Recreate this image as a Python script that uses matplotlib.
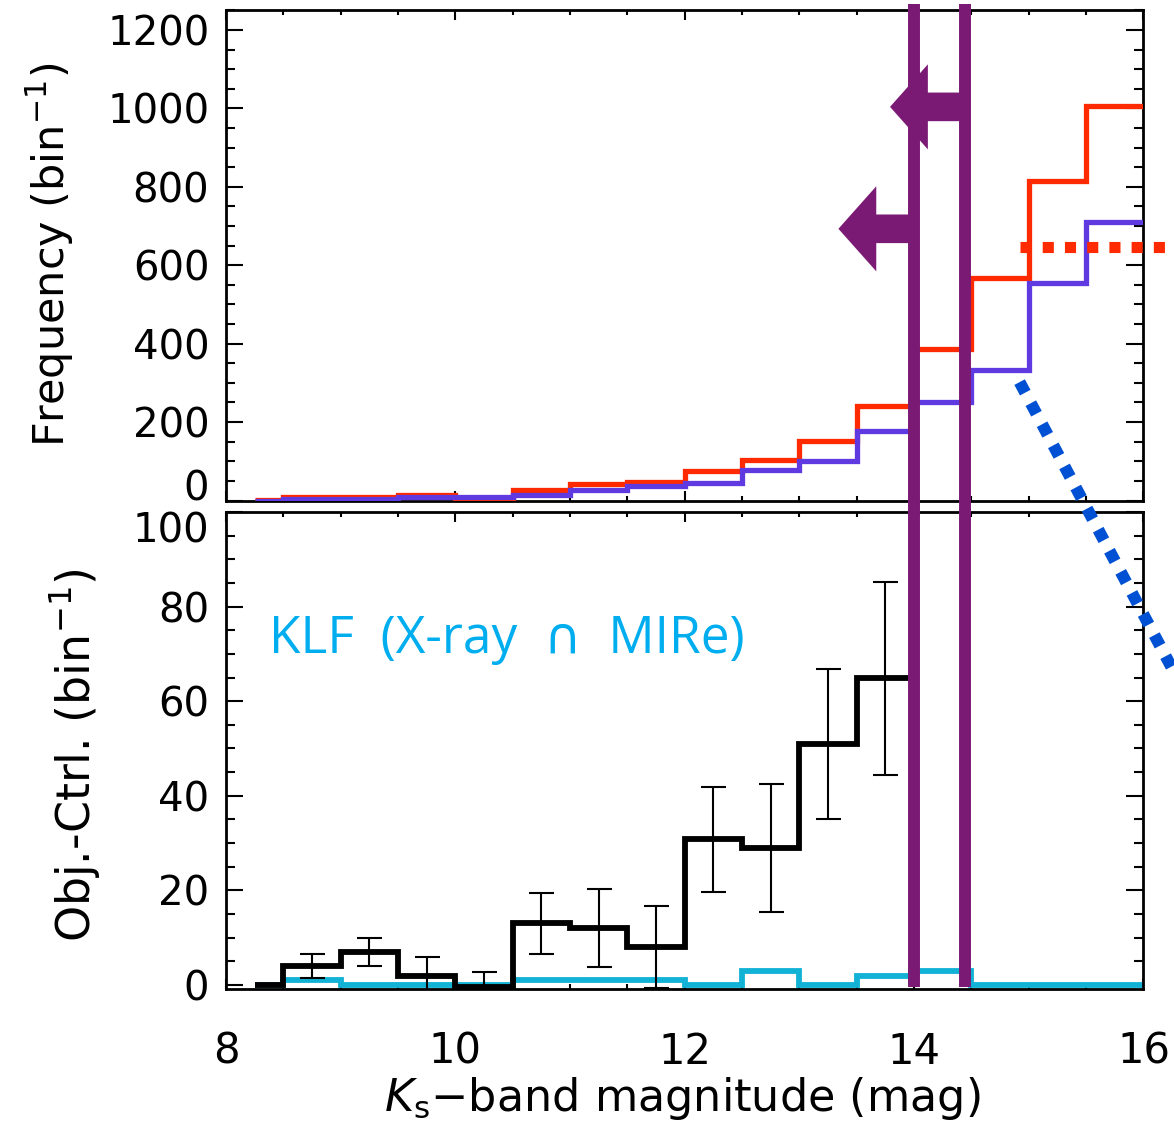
import matplotlib

matplotlib.use("Agg")
import matplotlib.pyplot as plt
from matplotlib.lines import Line2D
from matplotlib.patches import FancyArrow
from matplotlib.ticker import MultipleLocator
from matplotlib.transforms import blended_transform_factory

plt.rcParams["font.family"] = ["DejaVu Sans"]
plt.rcParams["mathtext.default"] = "regular"

# ── Data ──────────────────────────────────────────────────────────────
# Ks-band bin edges (first bin is a half bin)
edges = [8.25, 8.5, 9.0, 9.5, 10.0, 10.5, 11.0, 11.5, 12.0,
         12.5, 13.0, 13.5, 14.0, 14.5, 15.0, 15.5, 16.0]

# top panel: object field (red) and control field (blue)
obj_counts = [2, 9, 10, 13, 6, 28, 41, 47, 76, 104, 151, 242, 387, 568, 815, 1005]
ctrl_counts = [0, 3, 5, 8, 9, 15, 26, 36, 44, 78, 102, 177, 251, 333, 554, 710]

# bottom panel: Obj.-Ctrl. (black, up to 14 mag) and X-ray ∩ MIRe KLF (cyan)
diff_edges = edges[:13]
diff_counts = [0, 4.0, 7.0, 2.0, -0.5, 13.0, 12.0, 8.0, 30.8, 28.9, 50.9, 64.8]
diff_err = [None, 2.6, 2.9, 4.0, 3.2, 6.5, 8.2, 8.6, 11.1, 13.5, 15.9, 20.4]
klf_counts = [0, 1, 0, 0, 0, 1, 1, 1, 0, 3, 0, 2, 3, 0, 0, 0]

# completeness limits (mag), arrow markers and guide levels
ks_limits = [14.0, 14.44]
arrow_levels = [693, 1004]
arrow_tips = [13.34, 13.79]
red_level = 646

RED = "#ff2a00"
BLUE = "#5f3ae0"
CYAN = "#12b2d6"
PURPLE = "#7b1a74"

fig = plt.figure(figsize=(11.74, 11.25), dpi=100)
ax1 = fig.add_axes([0.1925, 0.5551, 0.7815, 0.4360])
ax2 = fig.add_axes([0.1925, 0.12089, 0.7815, 0.4240])

for ax in (ax1, ax2):
    ax.set_xlim(8, 16)
    ax.xaxis.set_major_locator(MultipleLocator(2))
    ax.xaxis.set_minor_locator(MultipleLocator(0.5))
    ax.tick_params(which="both", direction="in", top=True, right=True,
                   width=1.5, color="black")
    ax.tick_params(axis="y", which="major", length=12.2, labelsize=29, pad=12)
    ax.tick_params(axis="y", which="minor", length=6.5)
    ax.tick_params(axis="x", which="major", length=7.2, labelsize=30, pad=30)
    ax.tick_params(axis="x", which="minor", length=3.6)
    for sp in ax.spines.values():
        sp.set_linewidth(2)

# ── Top panel ────────────────────────────────────────────────────────
ax1.stairs(obj_counts, edges, baseline=None, color=RED, lw=3.8, zorder=3)
ax1.stairs(ctrl_counts, edges, baseline=None, color=BLUE, lw=3.8, zorder=3)
ax1.set_ylim(0, 1251)
ax1.yaxis.set_major_locator(MultipleLocator(200))
ax1.yaxis.set_minor_locator(MultipleLocator(50))
ax1.tick_params(axis="x", labelbottom=False)
ax1.set_ylabel(r"Frequency (bin$^{-1}$)", fontsize=31)
ax1.yaxis.set_label_coords(-0.163, 0.5)

# arrows pointing to brighter magnitudes from each limit
for lim, lev, tip in zip(ks_limits, arrow_levels, arrow_tips):
    ax1.add_patch(FancyArrow(lim, lev, tip - lim, 0, width=73, head_width=217,
                             head_length=0.33, length_includes_head=True,
                             color=PURPLE, lw=0, zorder=4, clip_on=False))

# dotted guide lines leading out of the frame (figure level, so they
# run over the lower panel too)
fig.add_artist(Line2D([14.92, 16.6], [red_level, red_level],
                      transform=ax1.transData, color=RED, lw=8,
                      linestyle=(0, (1, 1)), dash_capstyle="butt", zorder=6))
fig.add_artist(Line2D([14.92, 16.49], [302, -560],
                      transform=ax1.transData, color="#0050d4", lw=8.6,
                      linestyle=(0, (1, 1)), dash_capstyle="butt", zorder=6))

# ── Bottom panel ─────────────────────────────────────────────────────
ax2.stairs(klf_counts, edges, baseline=None, color=CYAN, lw=4.2, zorder=2)
ax2.stairs(diff_counts, diff_edges, baseline=None, color="black", lw=4.2, zorder=3)
centers = [(a + b) / 2 for a, b in zip(diff_edges[:-1], diff_edges[1:])]
ex = [c for c, e in zip(centers, diff_err) if e is not None]
ey = [v for v, e in zip(diff_counts, diff_err) if e is not None]
ee = [e for e in diff_err if e is not None]
ax2.errorbar(ex, ey, yerr=ee, fmt="none", ecolor="black", elinewidth=1.5,
             capsize=9, capthick=1.5, zorder=3)
ax2.set_ylim(-0.85, 100)
ax2.yaxis.set_major_locator(MultipleLocator(20))
ax2.yaxis.set_minor_locator(MultipleLocator(5))
ax2.set_ylabel(r"Obj.-Ctrl. (bin$^{-1}$)", fontsize=33)
ax2.yaxis.set_label_coords(-0.134, 0.49)
ax2.set_xlabel(r"$\mathit{K}_{\rm s}$$-$band magnitude (mag)", fontsize=32)
ax2.xaxis.set_label_coords(0.497, -0.18)
ax2.text(0.047, 0.733, "KLF  (X-ray  ∩  MIRe)", transform=ax2.transAxes,
         fontsize=37, color="#00aeef", family=["Open Sans", "DejaVu Sans"],
         va="center", ha="left")

# shift edge tick labels so they do not collide between panels
fig.canvas.draw()
for t in ax1.yaxis.get_major_ticks():
    if abs(t.get_loc()) < 1e-6:
        t.label1.set_va("baseline")
for t in ax2.yaxis.get_major_ticks():
    if abs(t.get_loc() - 100) < 1e-6:
        t.label1.set_va("top")
    elif abs(t.get_loc()) < 1e-6:
        t.label1.set_va("center_baseline")

# ── Magnitude limit lines spanning both panels ───────────────────────
trans = blended_transform_factory(ax2.transData, fig.transFigure)
for lim in ks_limits:
    fig.add_artist(Line2D([lim, lim], [1 - 987 / 1125, 1 - 4 / 1125],
                          transform=trans, color=PURPLE, lw=8.6,
                          solid_capstyle="butt", zorder=5))

fig.savefig("out.png", dpi=100)
plt.close(fig)
